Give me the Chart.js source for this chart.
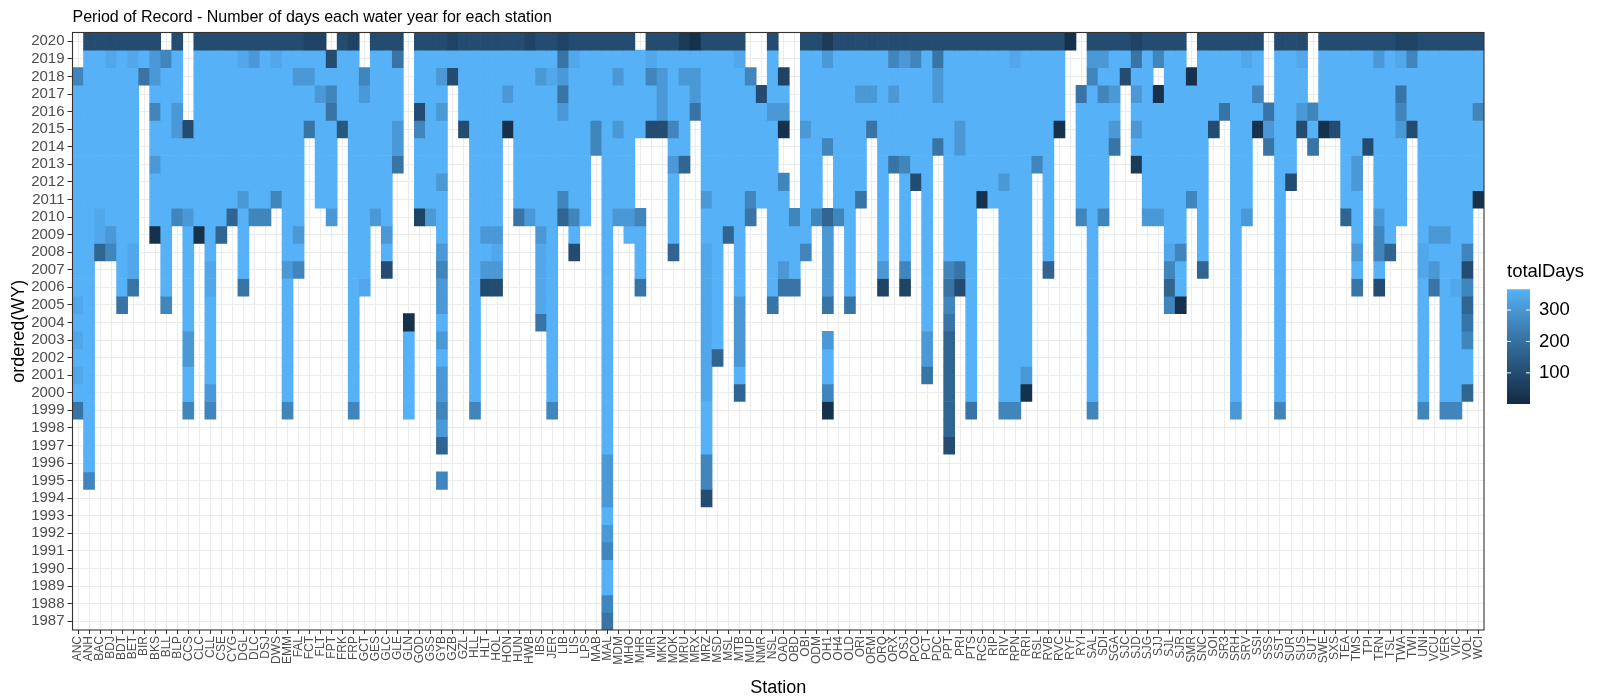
<!DOCTYPE html>
<html>
<head>
<meta charset="utf-8">
<title>Period of Record</title>
<script src="https://cdn.jsdelivr.net/npm/chart.js@4.4.1/dist/chart.umd.min.js"></script>
<style>
    html, body { margin: 0; padding: 0; background: #ffffff; }
    #wrap { width: 1600px; height: 700px; position: relative; }
</style>
</head>
<body>
<div id="wrap"><canvas id="chartPor"></canvas></div>
<script>
// stations along the x axis
const stations = [
    'ANC', 'ANH', 'BAC', 'BDJ', 'BDT', 'BET', 'BIR', 'BKS', 'BLL', 'BLP', 'CCS', 'CLC', 'CLL', 'CSE', 'CYG', 'DGL',
    'DLC', 'DSJ', 'DWS', 'EMM', 'FAL', 'FCT', 'FLT', 'FPT', 'FRK', 'FRP', 'GCT', 'GES', 'GLC', 'GLE', 'GLN', 'GOD',
    'GSS', 'GYB', 'GZB', 'GZL', 'HLL', 'HLT', 'HOL', 'HON', 'HUN', 'HWB', 'IBS', 'JER', 'LIB', 'LIS', 'LPS', 'MAB',
    'MAL', 'MDM', 'MHO', 'MHR', 'MIR', 'MKN', 'MOK', 'MRU', 'MRX', 'MRZ', 'MSD', 'MSL', 'MTB', 'MUP', 'NMR', 'NSL',
    'OAD', 'OBD', 'OBI', 'ODM', 'OH1', 'OH4', 'OLD', 'ORI', 'ORM', 'ORQ', 'ORX', 'OSJ', 'PCO', 'PCT', 'PDC', 'PPT',
    'PRI', 'PTS', 'RCS', 'RIP', 'RIV', 'RPN', 'RRI', 'RSL', 'RVB', 'RVC', 'RYF', 'RYI', 'SAL', 'SDI', 'SGA', 'SJC',
    'SJD', 'SJG', 'SJJ', 'SJL', 'SJR', 'SMR', 'SNC', 'SOI', 'SR3', 'SRH', 'SRV', 'SSI', 'SSS', 'SST', 'SUR', 'SUS',
    'SUT', 'SWE', 'SXS', 'TEA', 'TMS', 'TPI', 'TRN', 'TSL', 'TWA', 'TWI', 'UNI', 'VCU', 'VER', 'VIC', 'VOL', 'WCI',
];

// water years, top row first
const years = [
    2020, 2019, 2018, 2017, 2016, 2015, 2014, 2013, 2012, 2011, 2010, 2009, 2008, 2007, 2006, 2005, 2004,
    2003, 2002, 2001, 2000, 1999, 1998, 1997, 1996, 1995, 1994, 1993, 1992, 1991, 1990, 1989, 1988, 1987,
];

// days per code letter ('.' = no record)
const dayCodes = {
    F: 365, E: 340, D: 305, C: 255, B: 210, A: 170,
    9: 130, 8: 100, 7: 75, 6: 50, 5: 20,
};

// one string per station, one code per water year starting at 2020 (groups of 5 years)
const stationYears = [
    '..CFF FFFFF FFFFF EFEFE FB',        // ANC
    '8FFFF FFFFF FFFFF FFFFF FFFFF C',   // ANH
    '8FFFF FFFFF EEA',                   // BAC
    '8EFFF FFFFF FDC',                   // BDJ
    '8FFFF FFFFF FFFFF B',               // BDT
    '8EFFF FFFFF FFEEB',                 // BET
    '8FB',                               // BIR
    '8DDFC FFDFF F5',                    // BKS
    '.CFFF FFFFF FFFFF C',               // BLL
    '8FFFD DFFFF C',                     // BLP
    '..... 8FFFF DFFFF FFDDF FC',        // CCS
    '8FFFF FFFFF F5',                    // CLC
    '8FFFF FFFFF FFFEE FFFFF DC',        // CLL
    '8FFFF FFFFF FA',                    // CSE
    '8FFFF FFFFF A',                     // CYG
    '8EFFF FFFFD FFFFB',                 // DGL
    '8DFFF FFFFF C',                     // DLC
    '8FFFF FFFFF C',                     // DSJ
    '8EFFF FFFFC',                       // DWS
    '8FFFF FFFFF FFFDF FFFFF FC',        // EMM
    '8FDFF FFFFF FDFC',                  // FAL
    '7FDFF B',                           // FCT
    '7FFDF FFFFF',                       // FLT
    '.8FCB FFFFF D',                     // FPT
    '8FFFF 9',                           // FRK
    '7FFFF FFFFF FFFFF FFFFF FC',        // FRP
    '..CDF FFFFF FFFFE',                 // GCT
    '8FFFF FFFFF D',                     // GES
    '8FFFF FFFFF FDF8',                  // GLC
    '8BFFF DDB',                         // GLE
    '..... ..... ..... .5FFF FF',        // GLN
    '8FFF8 CFFFF 7',                     // GOD
    '8FFFF FFFFF D',                     // GSS
    '8FDFD FFFDF FFDCD DFDFD DCDA. C',   // GYB
    '7F8',                               // GZB
    '8FFFF 8',                           // GZL
    '8FFFF FFFFF FFFFF FFFFF FC',        // HLL
    '8FFFF FFFFF FDFD8',                 // HLT
    '8FFFF FFFFF FDED8',                 // HOL
    '8FFDF 5',                           // HON
    '8FFFF FFFFF B',                     // HUN
    '7FFFF FFFFF D',                     // HWB
    '8FDFF FFFFF FDEEE EB',              // IBS
    '8FEFF FFFFF FFFFF FFFFF FC',        // JER
    '7BDBD FFFFC A',                     // LIB
    '8EFFF FFFFF CF8',                   // LIS
    '8FFFF FFFFF F',                     // LPS
    '8FFFF CC',                          // MAB
    '8FFFF FFFFF FFFFF FFFFF FFFFD DDFDC FFCB', // MAL
    '8FDFF DFFFF D',                     // MDM
    '8FFFF FFFFF DF',                    // MHO
    '.FFFF F.... CFFFB',                 // MHR
    '8ECFF 8',                           // MIR
    '8FDDD 8',                           // MKN
    '8FFFF CFDFF FFA',                   // MOK
    '6FDFF FFA',                         // MRU
    '5FDDB',                             // MRX
    '8FFFF FFFFD FFEEE EEEEE EFFFC C8',  // MRZ
    '8FFFF FFFFF FFFFF FFFA',            // MSD
    '8FFFF FFFFF FA',                    // MSL
    '8EFFF FFFFF FFFFF DDDDF A',         // MTB
    '..CFF FFFFC B',                     // MUP
    '...8F FFFFF',                       // NMR
    '8FFFD FFFFF FFFFF B',               // NSL
    '..7FD 5..CF FFFDB',                 // OAD
    '..... ..... CFFFB',                 // OBD
    '8FFFF DFFFF FFC',                   // OBI
    '8FFFF FFFFF C',                     // ODM
    '6DFFF FC... ADDDD B.DFF C5',        // OH1
    '8FFFF FFFFF C',                     // OH4
    '8FFFF FFFFF FFFFF B',               // OLD
    '8FFDF FFFFB',                       // ORI
    '8FFDF B',                           // ORM
    '8FFFF FFFFF FFFD7',                 // ORQ
    '8CFDF FFB',                         // ORX
    '8DFFF FFCFF FFFC7',                 // OSJ
    '8CFFF FFF8',                        // PCO
    '8FFFF FFFFF FFFFF FFDDB',           // PCT
    '8BDDF FB',                          // PDC
    '8FFFF FFFFF FFFCB CBAAA AAA8',      // PPT
    '8FFFF DDFFF FFFB8',                 // PRI
    '8FFFF FFFFF FFFFF FFFFF FB',        // PTS
    '8FFFF FFFF5',                       // RCS
    '8FFFF FFFFF',                       // RIP
    '8FFFF FFFDF FFFFF FFFFF FC',        // RIV
    '8EFFF FFFFF FFFFF FFFFF FC',        // RPN
    '8FFFF FFFFF FFFFF FFFFD 5',         // RRI
    '8FFFF FFC',                         // RSL
    '8FFFF FFFFF FFFA',                  // RVB
    '8FFFF 5',                           // RVC
    '5',                                 // RYF
    '...BF FFFFF C',                     // RYI
    '8DCFF FFFFF FFFFF FFFFF FC',        // SAL
    '8DFCF FFFFF C',                     // SDI
    '8FFDF DB',                          // SGA
    '8F8',                               // SJC
    '7BFDF DF6',                         // SJD
    '8FFFF FFFFF D',                     // SJG
    '8C.5F FFFFF D',                     // SJJ
    '8FFFF FFFFF FFECA C',               // SJL
    '8FFFF FFFFF FFCFF 5',               // SJR
    '..5FF FFFFC',                       // SMR
    '8FFFF FFFFF FFFA',                  // SNC
    '8FFFF 8',                           // SOI
    '8FFFB',                             // SR3
    '8FFFF FFFFF FFFFF FFFFF FD',        // SRH
    '8EFFF FFFFF D',                     // SRV
    '8FFCF 5',                           // SSI
    '....B DB',                          // SSS
    '8FFFF FFFFF FFFFF FFFFF FC',        // SST
    '8FFFF FFF8',                        // SUR
    '8EFFD 8',                           // SUS
    '....C FB',                          // SUT
    '8FFFF 5',                           // SWE
    '8FFFF 8',                           // SXS
    '8FFFF FFFFF A',                     // TEA
    '8FFFF FFDDF FFDFB',                 // TMS
    '8FFFF F8',                          // TPI
    '8DFFF FFFFF DCCF8',                 // TRN
    '8FFFF FFFFF FFA',                   // TSL
    '7EFBC DFFFF F',                     // TWA
    '7CFFF 8',                           // TWI
    '8FFFF FFFFF FFEEF FFFFF FC',        // UNI
    '8FFFF FFFFF FDFDB',                 // VCU
    '8FFFF FFFFF FDFFF FFFFF FC',        // VER
    '8FFFF FFFFF FFFFE FFFFF FC',        // VIC
    '8FFFF FFFFF FFC8C ABCFF A',         // VOL
    '8FFFC FFFF5',                       // WCI
];

// colour bar
const dayLimits = [1, 366];
const legendTicks = [100, 200, 300];

const FONT = "'Liberation Sans', Arial, sans-serif";
const LOW = '#132B43';
const HIGH = '#56B1F7';

function toLab(hex) {
    const c = [1, 3, 5]
        .map((i) => parseInt(hex.slice(i, i + 2), 16) / 255)
        .map((v) => (v <= 0.04045 ? v / 12.92 : Math.pow((v + 0.055) / 1.055, 2.4)));
    const x = (0.4124 * c[0] + 0.3576 * c[1] + 0.1805 * c[2]) / 0.95047;
    const y = 0.2126 * c[0] + 0.7152 * c[1] + 0.0722 * c[2];
    const z = (0.0193 * c[0] + 0.1192 * c[1] + 0.9505 * c[2]) / 1.08883;
    const f = (t) => (t > 0.008856 ? Math.cbrt(t) : 7.787 * t + 16 / 116);
    return [116 * f(y) - 16, 500 * (f(x) - f(y)), 200 * (f(y) - f(z))];
}

function fromLab([L, a, b]) {
    const fy = (L + 16) / 116;
    const fx = fy + a / 500;
    const fz = fy - b / 200;
    const inv = (t) => (t * t * t > 0.008856 ? t * t * t : (t - 16 / 116) / 7.787);
    const x = inv(fx) * 0.95047;
    const y = inv(fy);
    const z = inv(fz) * 1.08883;
    const lin = [
        3.2406 * x - 1.5372 * y - 0.4986 * z,
        -0.9689 * x + 1.8758 * y + 0.0415 * z,
        0.0557 * x - 0.204 * y + 1.057 * z,
    ];
    const rgb = lin.map((v) => {
        v = Math.max(0, Math.min(1, v));
        return Math.round(255 * (v <= 0.0031308 ? 12.92 * v : 1.055 * Math.pow(v, 1 / 2.4) - 0.055));
    });
    return `rgb(${rgb.join(',')})`;
}

const labLow = toLab(LOW);
const labHigh = toLab(HIGH);

function dayColour(days) {
    let t = (days - dayLimits[0]) / (dayLimits[1] - dayLimits[0]);
    t = Math.max(0, Math.min(1, t));
    return fromLab(labLow.map((v, i) => v + (labHigh[i] - v) * t));
}

const cellDays = stationYears.map((s) =>
    s.replace(/ /g, '').split('').map((ch) => dayCodes[ch] ?? null)
);

const datasets = years.map((yr, k) => ({
    label: String(yr),
    data: stations.map((st, i) => (cellDays[i][k] != null ? [yr - 0.5, yr + 0.5] : null)),
    backgroundColor: stations.map((st, i) =>
        cellDays[i][k] != null ? dayColour(cellDays[i][k]) : 'rgba(0,0,0,0)'
    ),
    borderWidth: 0,
    grouped: false,
    barPercentage: 1,
    categoryPercentage: 1,
}));

const decor = {
    id: 'decor',
    afterDraw(chart) {
        const { ctx, chartArea: a } = chart;
        ctx.save();

        // panel border
        ctx.strokeStyle = '#333333';
        ctx.lineWidth = 1.1;
        ctx.strokeRect(a.left, a.top, a.right - a.left, a.bottom - a.top);

        // title
        ctx.fillStyle = '#000000';
        ctx.font = `16px ${FONT}`;
        ctx.textAlign = 'left';
        ctx.textBaseline = 'alphabetic';
        ctx.fillText('Period of Record - Number of days each water year for each station', a.left, 21.5);

        // axis titles
        ctx.font = `18px ${FONT}`;
        ctx.textAlign = 'center';
        ctx.textBaseline = 'middle';
        ctx.fillText('Station', (a.left + a.right) / 2, 688);
        ctx.save();
        ctx.translate(19, (a.top + a.bottom) / 2);
        ctx.rotate(-Math.PI / 2);
        ctx.fillText('ordered(WY)', 0, 0);
        ctx.restore();

        // colour bar legend
        const bx = 1507, bw = 23, top = 289.3, bottom = 404;
        const grad = ctx.createLinearGradient(0, bottom, 0, top);
        for (let i = 0; i <= 20; i++) {
            const v = dayLimits[0] + (dayLimits[1] - dayLimits[0]) * (i / 20);
            grad.addColorStop(i / 20, dayColour(v));
        }
        ctx.fillStyle = grad;
        ctx.fillRect(bx, top, bw, bottom - top);

        ctx.font = `18.5px ${FONT}`;
        ctx.fillStyle = '#000000';
        ctx.textAlign = 'left';
        ctx.fillText('totalDays', bx, 272);

        ctx.strokeStyle = '#ffffff';
        ctx.lineWidth = 1;
        legendTicks.forEach((v) => {
            const y = bottom - ((v - dayLimits[0]) / (dayLimits[1] - dayLimits[0])) * (bottom - top);
            ctx.beginPath();
            ctx.moveTo(bx, y);
            ctx.lineTo(bx + 4, y);
            ctx.moveTo(bx + bw - 4, y);
            ctx.lineTo(bx + bw, y);
            ctx.stroke();
            ctx.fillStyle = '#000000';
            ctx.fillText(String(v), 1539, y);
        });

        ctx.restore();
    },
};

new Chart(document.getElementById('chartPor'), {
    type: 'bar',
    data: { labels: stations, datasets },
    options: {
        responsive: true,
        maintainAspectRatio: false,
        animation: false,
        layout: { padding: { left: 0, right: 116, top: 32.5, bottom: 0 } },
        plugins: {
            legend: { display: false },
            tooltip: { enabled: false },
        },
        scales: {
            x: {
                type: 'category',
                offset: true,
                grid: {
                    offset: false,
                    color: '#EBEBEB',
                    lineWidth: 1,
                    tickLength: 4,
                    tickColor: '#333333',
                },
                border: { display: false },
                ticks: {
                    autoSkip: false,
                    minRotation: 90,
                    maxRotation: 90,
                    padding: 2,
                    color: '#4D4D4D',
                    font: { family: FONT, size: 12 },
                },
                afterFit: (axis) => {
                    axis.height = 70;
                },
            },
            y: {
                type: 'linear',
                min: 1986.5,
                max: 2020.5,
                afterBuildTicks: (axis) => {
                    axis.ticks = years.map((v) => ({ value: v }));
                },
                grid: {
                    color: '#EBEBEB',
                    lineWidth: 1,
                    tickLength: 5,
                    tickColor: '#333333',
                },
                border: { display: false },
                ticks: {
                    autoSkip: false,
                    padding: 3,
                    color: '#4D4D4D',
                    font: { family: FONT, size: 15 },
                    callback: (v) => String(v),
                },
                afterFit: (axis) => {
                    axis.width = 72.5;
                },
            },
        },
    },
    plugins: [decor],
});
</script>
</body>
</html>
